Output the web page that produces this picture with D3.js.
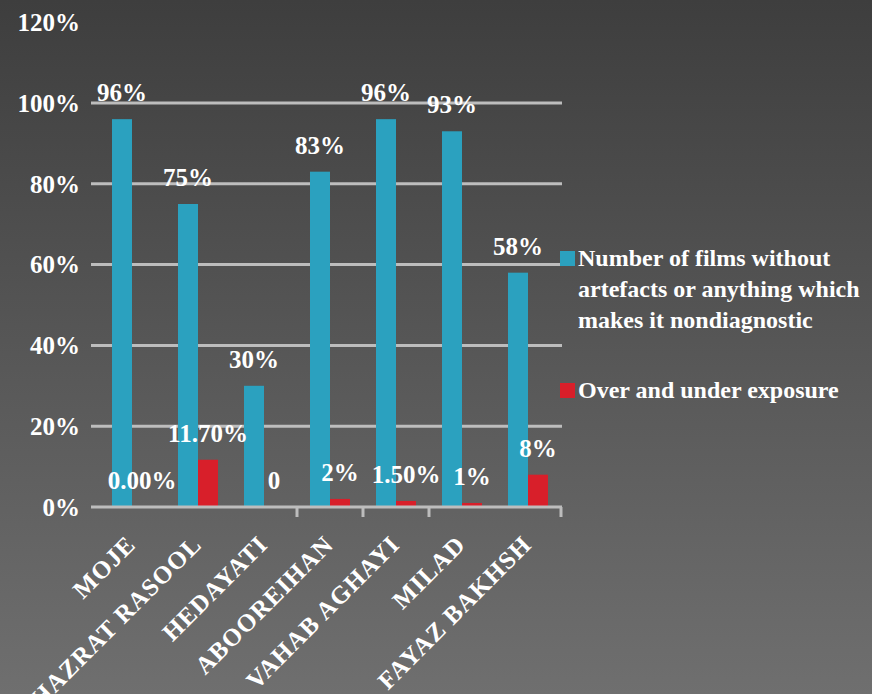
<!DOCTYPE html>
<html><head><meta charset="utf-8">
<script src="https://cdn.jsdelivr.net/npm/d3@7"></script>
<style>html,body{margin:0;padding:0;background:#555;}svg{display:block;}</style>
</head><body>
<script>
const categories = ["MOJE","HAZRAT RASOOL","HEDAYATI","ABOOREIHAN","VAHAB AGHAYI","MILAD","FAYAZ BAKHSH"];
const filmsOk = [96, 75, 30, 83, 96, 93, 58];
const exposure = [0, 11.7, 0, 2, 1.5, 1, 8];
const filmsOkLabels = ["96%","75%","30%","83%","96%","93%","58%"];
const exposureLabels = ["0.00%","11.70%","0","2%","1.50%","1%","8%"];
const seriesNames = ["Number of films without artefacts or anything which makes it nondiagnostic", "Over and under exposure"];
const legendLines = [["Number of films without","artefacts or anything which","makes it nondiagnostic"],["Over and under exposure"]];
const yTicks = [0,20,40,60,80,100,120];
const tickBoundaries = [3,4,5,7];

const W = 872, H = 694;
const colors = ["#2ba1bf", "#d81f2a"];
const font = "'Liberation Serif','Times New Roman',serif";

const svg = d3.select("body").append("svg").attr("width", W).attr("height", H);
const defs = svg.append("defs");
const grad = defs.append("linearGradient").attr("id","bg").attr("x1",0).attr("y1",0).attr("x2",0).attr("y2",1);
grad.append("stop").attr("offset","0%").attr("stop-color","#3e3e3e");
grad.append("stop").attr("offset","100%").attr("stop-color","#6f6f6f");
svg.append("rect").attr("width",W).attr("height",H).attr("fill","url(#bg)");

const y = d3.scaleLinear().domain([0,100]).range([507,103]);
const x = d3.scaleBand().domain(categories).range([99,561]).paddingInner(0).paddingOuter(0);
const sub = d3.scaleBand().domain([0,1]).range([0, 40]);
const groupOffset = (x.bandwidth() - 40) / 2;

// gridlines
svg.append("g").selectAll("line").data(yTicks.filter(t => t > 0 && t < 120)).join("line")
  .attr("x1",91).attr("x2",562).attr("y1",d=>y(d)).attr("y2",d=>y(d))
  .attr("stroke","#bdbdbd").attr("stroke-width",3);

// y labels
svg.append("g").selectAll("text").data(yTicks).join("text")
  .attr("x",80).attr("y",d=>y(d)).attr("dy","0.35em").attr("text-anchor","end")
  .attr("fill","#fff").attr("font-family",font).attr("font-size",25).attr("font-weight","bold")
  .text(d=>d+"%");

// bars
const series = [filmsOk, exposure];
const labels = [filmsOkLabels, exposureLabels];
series.forEach((vals, s) => {
  svg.append("g").selectAll("rect").data(vals).join("rect")
    .attr("x",(d,i)=>x(categories[i]) + groupOffset + sub(s))
    .attr("y",d=>y(d)).attr("width",sub.bandwidth()).attr("height",d=>y(0)-y(d))
    .attr("fill",colors[s]);
});

// axis line + ticks
svg.append("line").attr("x1",91).attr("x2",562).attr("y1",y(0)).attr("y2",y(0))
  .attr("stroke","#bdbdbd").attr("stroke-width",3);
svg.append("g").selectAll("line").data(tickBoundaries).join("line")
  .attr("x1",d=>x.range()[0] + d*x.step()).attr("x2",d=>x.range()[0] + d*x.step())
  .attr("y1",y(0)).attr("y2",y(0)+10).attr("stroke","#bdbdbd").attr("stroke-width",3);

// data labels
series.forEach((vals, s) => {
  svg.append("g").selectAll("text").data(vals).join("text")
    .attr("x",(d,i)=>x(categories[i]) + groupOffset + sub(s) + sub.bandwidth()/2)
    .attr("y",d=>y(d) - 18).attr("text-anchor","middle")
    .attr("fill","#fff").attr("font-family",font).attr("font-size",25).attr("font-weight","bold")
    .text((d,i)=>labels[s][i]);
});

// category labels
svg.append("g").selectAll("text").data(categories).join("text")
  .attr("transform",d=>`translate(${x(d)+x.bandwidth()/2+5},${546}) rotate(-45)`)
  .attr("text-anchor","end").attr("fill","#fff").attr("font-family",font)
  .attr("font-size",25).attr("font-weight","bold").attr("letter-spacing",1)
  .text(d=>d);

// legend
const legTop = [251, 383];
const legend = svg.append("g");
legendLines.forEach((lines, s) => {
  legend.append("rect").attr("x",560).attr("y",legTop[s]).attr("width",15).attr("height",15).attr("fill",colors[s]);
  legend.append("text").attr("fill","#fff").attr("font-family",font).attr("font-size",24).attr("font-weight","bold")
    .selectAll("tspan").data(lines).join("tspan")
    .attr("x",578).attr("y",(d,j)=>legTop[s]+15 + j*31).text(d=>d);
});
</script>
</body></html>
